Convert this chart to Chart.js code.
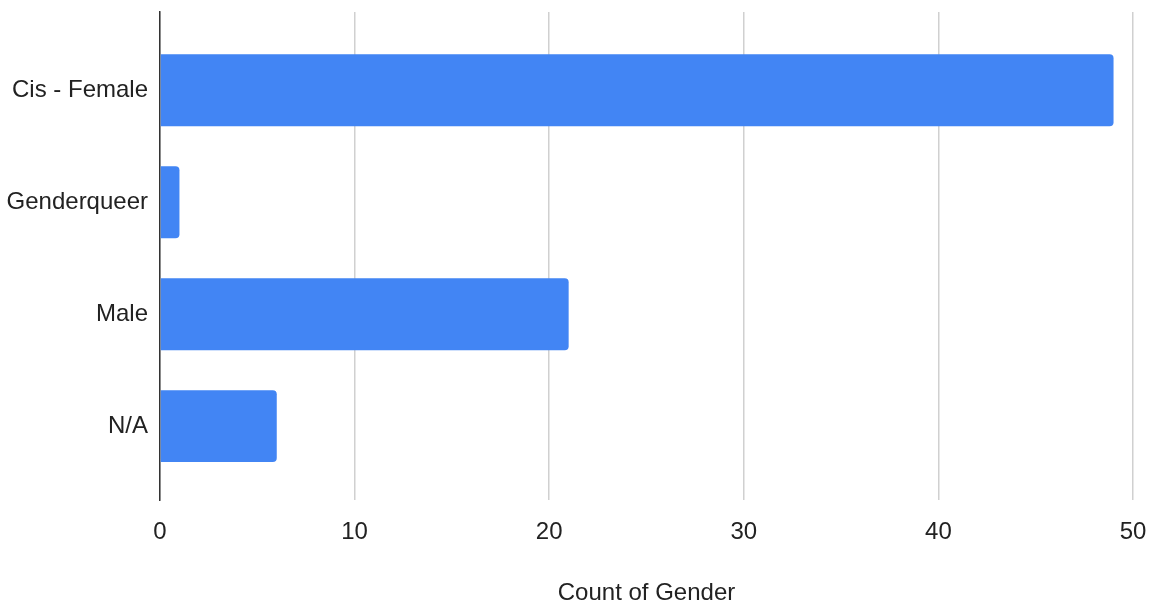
<!DOCTYPE html>
<html>
<head>
<meta charset="utf-8">
<script src="https://cdn.jsdelivr.net/npm/chart.js@4"></script>
<style>
  html, body { margin: 0; padding: 0; background: #fff; }
  #wrap { width: 1156px; height: 608px; }
</style>
</head>
<body>
<div id="wrap"><canvas id="grafico" width="1156" height="608"></canvas></div>
<script>
// dados
var categorias = ["Cis - Female", "Genderqueer", "Male", "N/A"];
var contagens  = [49, 1, 21, 6];
var ticksX     = [0, 10, 20, 30, 40, 50];
var tituloX    = "Count of Gender";

var fonte = { family: "'Liberation Sans', Arial, sans-serif", size: 24 };

// índice linear no eixo y para controlar as margens acima e abaixo das barras
var pontos = contagens.map(function(v, i) { return { x: v, y: i }; });

new Chart(document.getElementById("grafico").getContext("2d"), {
  type: "bar",
  data: {
    datasets: [{
      label: tituloX,
      data: pontos,
      backgroundColor: "#4285F4",
      borderWidth: 0,
      borderRadius: 4,
      categoryPercentage: 1,
      barPercentage: 0.643
    }]
  },
  options: {
    indexAxis: "y",
    responsive: false,
    animation: false,
    layout: { padding: { left: 0, right: 23, top: 12, bottom: 0 } },
    plugins: {
      legend: { display: false },
      tooltip: { enabled: false }
    },
    scales: {
      x: {
        type: "linear",
        min: ticksX[0],
        max: ticksX[ticksX.length - 1],
        afterBuildTicks: function(scale) {
          scale.ticks = ticksX.map(function(t) { return { value: t }; });
        },
        ticks: { color: "#222", font: fonte, padding: 18 },
        grid: { color: "#d0d0d0", lineWidth: 1.5, drawTicks: false },
        border: { display: false },
        title: {
          display: true,
          text: tituloX,
          color: "#222",
          font: fonte,
          padding: { top: 24, bottom: 0 }
        },
        afterFit: function(scale) {
          scale.height = 108;
          scale.paddingLeft = 0;
          scale.paddingRight = 0;
        }
      },
      y: {
        type: "linear",
        reverse: true,
        offset: false,
        min: -0.7,
        max: 3.66,
        afterBuildTicks: function(scale) {
          scale.ticks = categorias.map(function(c, i) { return { value: i }; });
        },
        ticks: {
          color: "#222",
          font: fonte,
          padding: 12,
          callback: function(v) { return categorias[v]; }
        },
        grid: { display: false, drawTicks: false },
        border: { display: true, color: "#333", width: 1.5 },
        afterFit: function(scale) {
          scale.width = 160;
          scale.paddingTop = 0;
          scale.paddingBottom = 0;
        }
      }
    }
  }
});
</script>
</body>
</html>
